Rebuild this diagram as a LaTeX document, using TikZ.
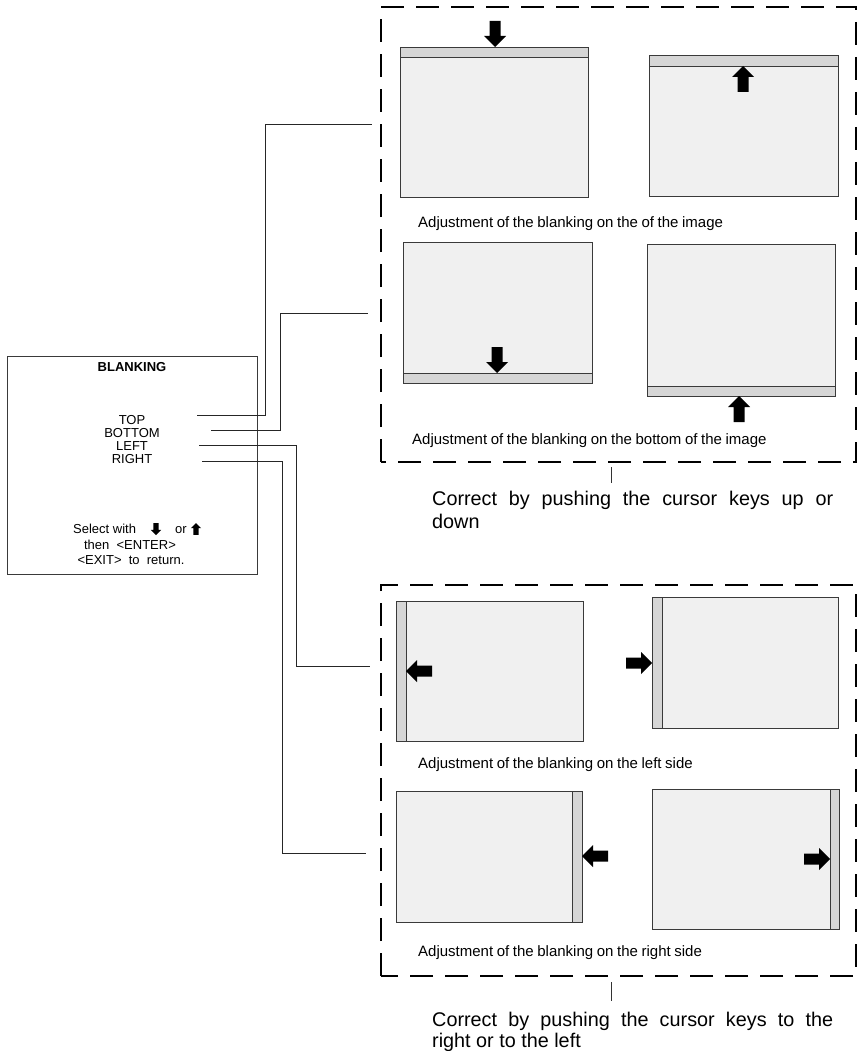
\documentclass[tikz,border=0pt]{standalone}
\usepackage{fontspec}
\setmainfont{Liberation Sans}
\definecolor{scrfill}{HTML}{F0F0F0}
\definecolor{stripfill}{HTML}{D6D6D6}
\definecolor{boxline}{HTML}{3A3A3A}
\tikzset{
  screen/.style={draw=boxline,line width=0.9pt,fill=scrfill},
  stripbar/.style={draw=boxline,line width=0.9pt,fill=stripfill},
  frame/.style={draw=black,line width=2.6pt,dash pattern=on 23pt off 12pt},
  conn/.style={draw=black!85,line width=0.8pt},
  menutxt/.style={font=\fontsize{13}{13}\selectfont,inner sep=0pt},
  captxt/.style={font=\fontsize{15}{18}\selectfont,inner sep=0pt,anchor=base west},
  bigtxt/.style={font=\fontsize{19.8}{22}\selectfont,inner sep=0pt,anchor=base west},
  arrD/.pic={\fill[black] (0,0)--(-11,-11)--(-5.5,-11)--(-5.5,-26)--(5.5,-26)--(5.5,-11)--(11,-11)--cycle;},
  arrU/.pic={\fill[black] (0,0)--(-11,11)--(-5.5,11)--(-5.5,26)--(5.5,26)--(5.5,11)--(11,11)--cycle;},
  arrL/.pic={\fill[black] (0,0)--(11,-11)--(11,-5.5)--(26,-5.5)--(26,5.5)--(11,5.5)--(11,11)--cycle;},
  arrR/.pic={\fill[black] (0,0)--(-11,-11)--(-11,-5.5)--(-26,-5.5)--(-26,5.5)--(-11,5.5)--(-11,11)--cycle;}
}
\newcommand{\capfix}[1]{{\spaceskip=3.6pt plus 1pt\relax #1}}
\begin{document}
\begin{tikzpicture}[x=1pt,y=-1pt]
\useasboundingbox[fill=white] (0,0) rectangle (858,1051);

% ---------------- menu ----------------
\draw[boxline,line width=0.9pt] (7,356) rectangle (257,574);
\node[menutxt,font=\fontsize{13}{13}\selectfont\bfseries] (blank) at (132,367) {BLANKING};
\node[menutxt] (top)    at (132,420) {TOP};
\node[menutxt] (bottom) at (132,433) {BOTTOM};
\node[menutxt] (left)   at (132,446) {LEFT};
\node[menutxt] (right)  at (132,459) {RIGHT};
\node[menutxt,anchor=base west] (sel) at (73,533) {Select with};
\pic at (156,535) [scale=0.46] {arrD};
\node[menutxt,anchor=base west] (orw) at (175,533) {or};
\pic at (196,523) [scale=0.46] {arrU};
\node[menutxt,anchor=base] (then) at (130,549) {then\ \ <ENTER>};
\node[menutxt,anchor=base] (exit) at (131,564) {<EXIT>\ \ to\ \ return.};

% connector end points
\coordinate (topS) at (197,415);
\coordinate (botS) at (211,430);
\coordinate (lefS) at (199,445);
\coordinate (rigS) at (202,461);
\coordinate (topE) at (372,124);
\coordinate (botE) at (368,313);
\coordinate (lefE) at (370,666);
\coordinate (rigE) at (366,853);
\draw[conn] (topS) -- (265,415) -- (265,124) -- (topE);
\draw[conn] (botS) -- (280,430) -- (280,313) -- (botE);
\draw[conn] (lefS) -- (296,445) -- (296,666) -- (lefE);
\draw[conn] (rigS) -- (282,461) -- (282,853) -- (rigE);

% ---------------- upper frame ----------------
\draw[frame] (381,462) -- (381,7) -- (856,7) -- (856,462) -- cycle;
% box 1
\draw[screen] (400,47) rectangle (588,197);
\draw[stripbar] (400,47) rectangle (588,57);
\pic at (495,47) {arrD};
% box 2
\draw[screen] (649,55) rectangle (838,196);
\draw[stripbar] (649,55) rectangle (838,66);
\pic at (743,66) {arrU};
\node[captxt] (cap1) at (418,227) {\capfix{Adjustment of the blanking on the of the image}};
% box 3
\draw[screen] (403,242) rectangle (592,383);
\draw[stripbar] (403,373) rectangle (592,383);
\pic at (497,373) {arrD};
% box 4
\draw[screen] (647,244) rectangle (835,396);
\draw[stripbar] (647,386) rectangle (835,396);
\pic at (739,396) {arrU};
\node[captxt] (cap2) at (412,444) {\capfix{Adjustment of the blanking on the bottom of the image}};
% note 1
\coordinate (tick1a) at (611,467);
\coordinate (tick1b) at (611,483);
\draw[black!80,line width=0.6pt] (tick1a) -- (tick1b);
\node[bigtxt] (note1a) at (432,505) {\makebox[401pt][s]{Correct by pushing the cursor keys up or}};
\node[bigtxt] (note1b) at (432,528) {down};

% ---------------- lower frame ----------------
\draw[frame] (381,976) -- (381,585) -- (856,585) -- (856,976) -- cycle;
% box 5
\draw[screen] (396,601) rectangle (583,741);
\draw[stripbar] (396,601) rectangle (406,741);
\pic at (406,671) {arrL};
% box 6
\draw[screen] (652,597) rectangle (838,728);
\draw[stripbar] (652,597) rectangle (662,728);
\pic at (652,663) {arrR};
\node[captxt] (cap3) at (418,768) {\capfix{Adjustment of the blanking on the left side}};
% box 7
\draw[screen] (396,791) rectangle (582,922);
\draw[stripbar] (572,791) rectangle (582,922);
\pic at (582,856) {arrL};
% box 8
\draw[screen] (652,789) rectangle (839,929);
\draw[stripbar] (830,789) rectangle (839,929);
\pic at (830,859) {arrR};
\node[captxt] (cap4) at (418,956) {\capfix{Adjustment of the blanking on the right side}};
% note 2
\coordinate (tick2a) at (611,982);
\coordinate (tick2b) at (611,1001);
\draw[black!80,line width=0.6pt] (tick2a) -- (tick2b);
\node[bigtxt] (note2a) at (432,1026) {\makebox[401pt][s]{Correct by pushing the cursor keys to the}};
\node[bigtxt] (note2b) at (432,1047) {right or to the left};
\end{tikzpicture}
\end{document}
